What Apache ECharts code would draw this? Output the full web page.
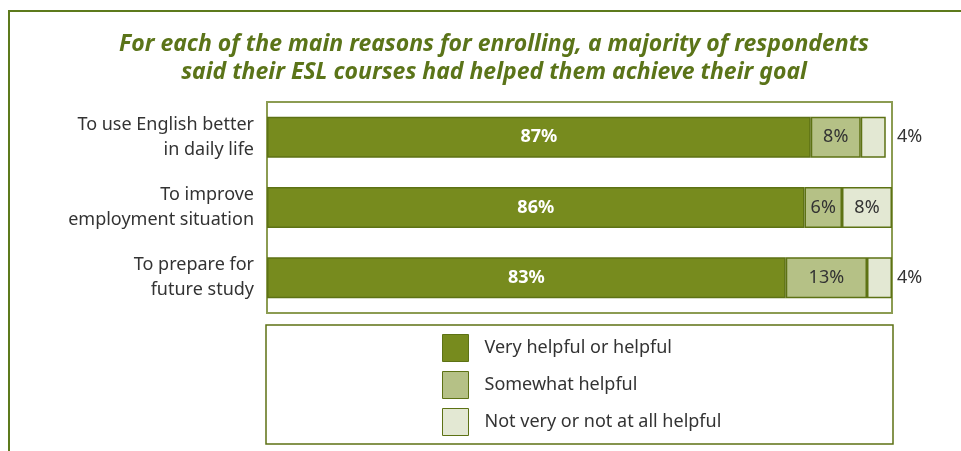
<!DOCTYPE html>
<html>
<head>
<meta charset="utf-8">
<script src="https://cdn.jsdelivr.net/npm/echarts@6/dist/echarts.min.js"></script>
<style>
  html, body { margin: 0; padding: 0; background: #fff; }
  #chart { width: 961px; height: 451px; }
</style>
</head>
<body>
<div id="chart"></div>
<script>
// Reasons for enrolling (top to bottom)
const categories = [
  'To use English better\nin daily life',
  'To improve\nemployment situation',
  'To prepare for\nfuture study'
];
const seriesNames = [
  'Very helpful or helpful',
  'Somewhat helpful',
  'Not very or not at all helpful'
];
const helpful = [87, 86, 83];
const somewhat = [8, 6, 13];
const notHelpful = [4, 8, 4];

const titleLines = [
  'For each of the main reasons for enrolling, a majority of respondents',
  'said their ESL courses had helped them achieve their goal'
];

const colors = ['#778b1e', '#b5c186', '#e3e8d3'];
const edge = '#5d7214';
const frame = '#8c9c52';
const textFont = 'Noto Sans';

const chart = echarts.init(document.getElementById('chart'), null, { renderer: 'canvas' });

function pct(p) { return p.value + '%'; }

// Small segments get their label to the right of the bar
const notHelpfulData = notHelpful.map((v, i) => {
  const total = helpful[i] + somewhat[i] + v;
  if (v < 6) {
    return {
      value: v,
      label: { position: 'right', distance: 5 + (100 - total) * 6.25, color: '#333' }
    };
  }
  return v;
});

const option = {
  animation: false,
  title: {
    text: titleLines.join('\n'),
    left: 489,
    top: 25,
    textAlign: 'center',
    textStyle: {
      fontFamily: textFont,
      fontStyle: 'italic',
      fontWeight: 'bold',
      fontSize: 23,
      lineHeight: 28,
      color: '#5b7419'
    }
  },
  grid: {
    left: 267, right: 69, top: 102, bottom: 138,
    show: true,
    borderColor: frame,
    borderWidth: 2,
    backgroundColor: 'transparent'
  },
  legend: {
    orient: 'vertical',
    left: 437, top: 329,
    itemWidth: 26, itemHeight: 27, itemGap: 9,
    icon: 'rect',
    selectedMode: false,
    itemStyle: { borderColor: edge, borderWidth: 1 },
    textStyle: { fontFamily: textFont, fontSize: 18, lineHeight: 27, color: '#333', padding: [0, 0, 0, 11] },
    data: seriesNames
  },
  xAxis: {
    type: 'value', min: 0, max: 100,
    show: false
  },
  yAxis: {
    type: 'category',
    inverse: true,
    data: categories,
    axisLine: { show: false },
    axisTick: { show: false },
    axisLabel: {
      margin: 13,
      align: 'right',
      fontFamily: textFont,
      fontSize: 18,
      lineHeight: 25,
      padding: [5, 0, 0, 0],
      color: '#333'
    }
  },
  series: [
    {
      name: seriesNames[0], type: 'bar', stack: 'all', data: helpful,
      barWidth: 41,
      itemStyle: { color: colors[0], borderColor: edge, borderWidth: 1.5 },
      label: { show: true, position: 'inside', formatter: pct,
               fontFamily: textFont, fontSize: 18, fontWeight: 'bold', color: '#fff' }
    },
    {
      name: seriesNames[1], type: 'bar', stack: 'all', data: somewhat,
      itemStyle: { color: colors[1], borderColor: edge, borderWidth: 1.5 },
      label: { show: true, position: 'inside', formatter: pct,
               fontFamily: textFont, fontSize: 18, color: '#333' }
    },
    {
      name: seriesNames[2], type: 'bar', stack: 'all', data: notHelpfulData,
      itemStyle: { color: colors[2], borderColor: edge, borderWidth: 1.5 },
      label: { show: true, position: 'inside', formatter: pct,
               fontFamily: textFont, fontSize: 18, color: '#333' }
    }
  ],
  graphic: [
    {
      type: 'rect', silent: true, z: -1,
      shape: { x: 9, y: 11, width: 1000, height: 500 },
      style: { fill: 'none', stroke: '#5d7a1c', lineWidth: 2 }
    },
    {
      type: 'rect', silent: true, z: -1,
      shape: { x: 266, y: 325, width: 627, height: 119 },
      style: { fill: 'none', stroke: edge, lineWidth: 1.5 }
    }
  ]
};

chart.setOption(option);
</script>
</body>
</html>
